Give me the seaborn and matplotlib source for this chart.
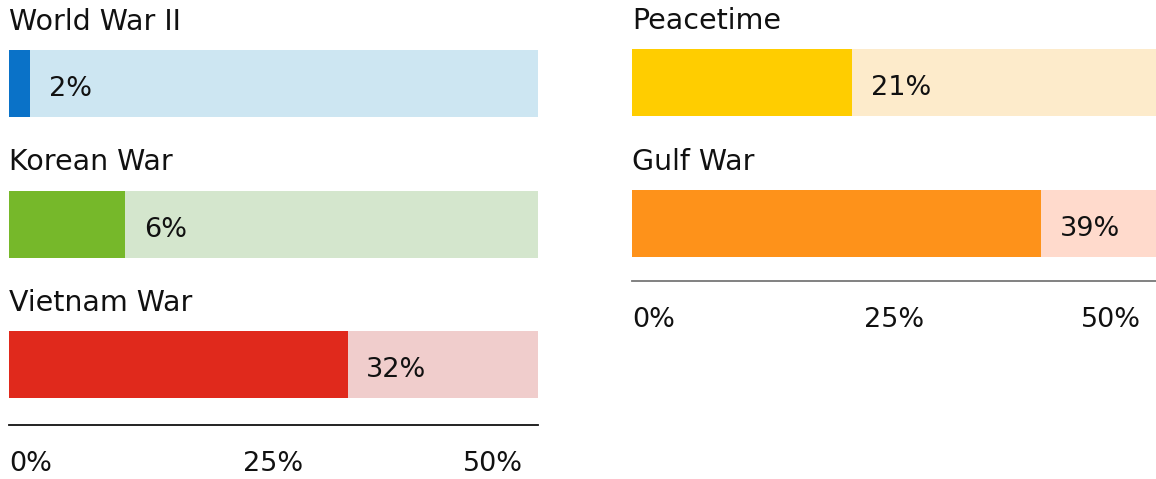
import matplotlib
matplotlib.use("Agg")
import matplotlib.pyplot as plt
import matplotlib.transforms as mtransforms
import seaborn as sns
import pandas as pd

# ---- data ----
left_categories = ["World War II", "Korean War", "Vietnam War"]
left_values = [2, 11, 32]          # bar lengths as drawn (%)
left_labels = ["2%", "6%", "32%"]  # printed labels
right_categories = ["Peacetime", "Gulf War"]
right_values = [21, 39]
right_labels = ["21%", "39%"]
tick_values = [0, 25, 50]
tick_labels = ["0%", "25%", "50%"]
axis_max = 50

left_dark = ["#0a72c8", "#76b82a", "#e0291c"]
left_light = ["#cde6f2", "#d4e6cd", "#f0cdcc"]
right_dark = ["#ffcd00", "#fe921a"]
right_light = ["#fdebcb", "#ffdacc"]

sns.set_theme(style="white")
plt.rcParams["font.family"] = ["DejaVu Sans"]

W, H = 1156, 479
fig = plt.figure(figsize=(W / 100, H / 100), dpi=100)

BAR_W = 0.477
FS = 19.5
FS_TITLE = 20.5


def panel(rect_px, cats, vals, labels, dark, light, ylim, spine_color):
    x0, top, x1, bottom = rect_px
    ax = fig.add_axes([x0 / W, 1 - bottom / H, (x1 - x0) / W, (bottom - top) / H])
    df = pd.DataFrame({"cat": cats, "val": vals, "full": [axis_max] * len(cats)})
    sns.barplot(data=df, x="full", y="cat", hue="cat", palette=light, orient="h",
                width=BAR_W, legend=False, ax=ax, saturation=1, linewidth=0)
    sns.barplot(data=df, x="val", y="cat", hue="cat", palette=dark, orient="h",
                width=BAR_W, legend=False, ax=ax, saturation=1, linewidth=0)
    ax.set_xlim(0, axis_max)
    ax.set_ylim(*ylim)
    ax.set_xlabel("")
    ax.set_ylabel("")
    ax.set_yticks([])
    for s in ["top", "right", "left"]:
        ax.spines[s].set_visible(False)
    ax.spines["bottom"].set_color(spine_color)
    ax.spines["bottom"].set_linewidth(1.3)
    ax.set_xticks(tick_values)
    ax.set_xticklabels(tick_labels, fontsize=FS, color="#111111")
    ax.tick_params(axis="x", length=0, pad=19)
    tl = ax.get_xticklabels()
    tl[0].set_ha("left")
    tl[1].set_ha("center")
    tl[2].set_ha("right")
    tl[2].set_transform(tl[2].get_transform() +
                        mtransforms.ScaledTranslation(-15 / 100, 0, fig.dpi_scale_trans))
    for i, (c, v, lab) in enumerate(zip(cats, vals, labels)):
        ax.annotate(c, xy=(0, i - BAR_W / 2), xytext=(0, 14.5), textcoords="offset points",
                    ha="left", va="baseline", fontsize=FS_TITLE, color="#111111")
        ax.annotate(lab, xy=(v, i), xytext=(13.5, -9), textcoords="offset points",
                    ha="left", va="baseline", fontsize=FS, color="#111111")
    return ax


panel((9, 0.7, 538, 425), left_categories, left_values, left_labels,
      left_dark, left_light, (2.43, -0.59), "#111111")
panel((632, -0.7, 1156, 281), right_categories, right_values, right_labels,
      right_dark, right_light, (1.408, -0.59), "#777777")

fig.savefig("out.png", dpi=100)
